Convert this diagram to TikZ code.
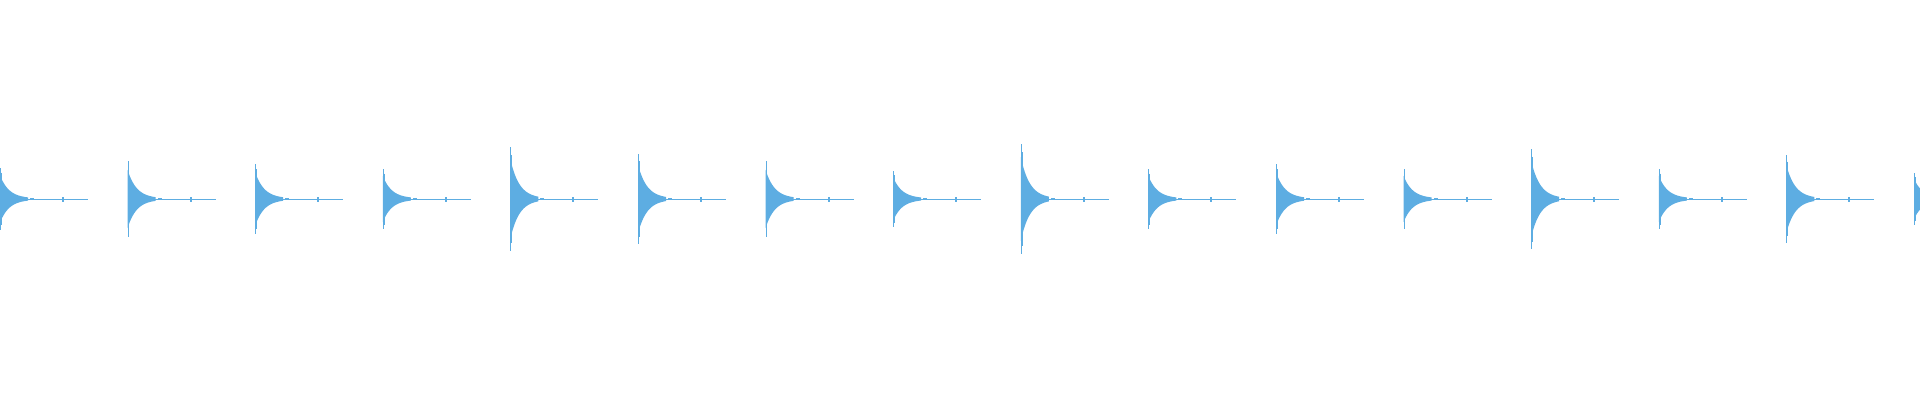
\documentclass[tikz,border=0pt]{standalone}
\definecolor{wave}{HTML}{5DADE2}
\begin{document}
\begin{tikzpicture}[x=1pt,y=-1pt,line width=0.8pt]
\useasboundingbox (0,0) rectangle (1920,400);
\foreach \i/\A in {0/31,1/38,2/35,3/30,4/52,5/45,6/38,7/28,8/55,9/30,10/35,11/30,12/50,13/30,14/44,15/26}{
  \pgfmathsetmacro{\xo}{\i*127.6}
  \begin{scope}[shift={(\xo,199)}]
    \fill[wave] (0,-0.75*\A) -- plot[domain=0:28,samples=30,smooth] (\x,{-0.75*\A*exp(-\x/9)-0.6})
      -- plot[domain=28:0,samples=30,smooth] (\x,{0.75*\A*exp(-\x/9)+0.6}) -- cycle;
    \draw[wave,line width=1pt] (0.5,-\A) -- (0.5,\A);
    \draw[wave,line width=0.5pt] (1,-0.85*\A) -- (1,0.85*\A);
    \draw[wave,line width=0.9pt] (20,0) -- (88,0);
    \fill[wave] (62,-2.5) rectangle (64,2.5);
    \fill[wave] (30,-1.2) rectangle (34,1.2);
  \end{scope}
}
\end{tikzpicture}
\end{document}
